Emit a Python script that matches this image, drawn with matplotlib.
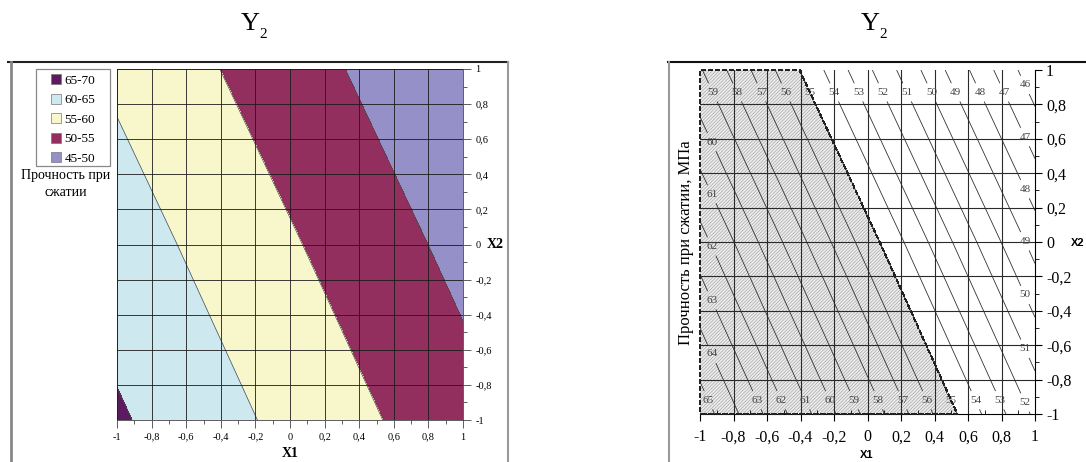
import numpy as np
import matplotlib
matplotlib.use('Agg')
import matplotlib.pyplot as plt
from matplotlib.patches import Rectangle
from matplotlib.lines import Line2D
from matplotlib.ticker import MultipleLocator, FuncFormatter, FixedLocator

# ---------------- data ----------------
x1_nodes = [-1.0, 0.0, 1.0]
x2_nodes = [-1.0, 0.0, 1.0]
# Y2 (compressive strength) at grid nodes; rows: X2 = -1, 0, 1 ; cols: X1 = -1, 0, 1
y2_grid = [[65.6, 58.7, 51.8],
           [62.4, 55.5, 48.6],
           [59.1, 52.2, 45.3]]

band_levels = [45, 50, 55, 60, 65, 70]
band_labels = ['45-50', '50-55', '55-60', '60-65', '65-70']
band_colors = ['#9590c7', '#932f5f', '#f8f6cb', '#cde9ef', '#5c1b5f']

line_levels = list(range(46, 66))
labels_top = [47, 48, 49, 50, 51, 52, 53, 54, 55, 56, 57, 58, 59]
labels_bottom = [53, 54, 55, 56, 57, 58, 59, 60, 61, 62, 63, 65]
labels_left = [60, 61, 62, 63, 64]
labels_right = [46, 47, 48, 49, 50, 51, 52]
feasible_levels = [55, 70]
tick_vals = [-1.0, -0.8, -0.6, -0.4, -0.2, 0.0, 0.2, 0.4, 0.6, 0.8, 1.0]

title_main = 'Y'
title_sub = '2'
ylabel_right = 'Прочность при сжатии, МПа'
legend_title = 'Прочность при\nсжатии'

# ---------------- helpers ----------------
W, H = 1086, 462
SERIF = 'Liberation Serif'
SANS = 'Liberation Sans'
plt.rcParams['hatch.color'] = '#9a9a9a'
plt.rcParams['hatch.linewidth'] = 0.4

xs = np.linspace(-1, 1, 201)
rows = np.array([np.interp(xs, x1_nodes, r) for r in y2_grid])
Z = np.array([np.interp(xs, x2_nodes, rows[:, j]) for j in range(len(xs))]).T


def fx(px):
    return px / W


def fy(py):
    return 1 - py / H


def comma(v, pos=None):
    s = '%g' % round(v, 1)
    return s.replace('.', ',')


def idx(v):
    return int(np.argmin(np.abs(xs - v)))


def along_row(level, x2v):
    r = Z[idx(x2v)]
    return (float(np.interp(level, r[::-1], xs[::-1])), x2v)


def along_col(level, x1v):
    c = Z[:, idx(x1v)]
    return (x1v, float(np.interp(level, c[::-1], xs[::-1])))


fig = plt.figure(figsize=(W / 100, H / 100), dpi=100)

# ---------------- left panel ----------------
axL = fig.add_axes([fx(117), fy(420), fx(463 - 117), (420 - 69) / H])
axL.contourf(xs, xs, Z, levels=band_levels, colors=band_colors)
axL.contour(xs, xs, Z, levels=band_levels[1:-1], colors='#4a4a4a', linewidths=0.5)
axL.set_xlim(-1, 1)
axL.set_ylim(-1, 1)
axL.yaxis.tick_right()
axL.xaxis.set_major_locator(FixedLocator(tick_vals))
axL.yaxis.set_major_locator(FixedLocator(tick_vals))
axL.xaxis.set_minor_locator(MultipleLocator(0.1))
axL.yaxis.set_minor_locator(MultipleLocator(0.1))
axL.xaxis.set_major_formatter(FuncFormatter(comma))
axL.yaxis.set_major_formatter(FuncFormatter(comma))
axL.grid(True, which='major', color='#1a1a1a', linewidth=0.6)
axL.set_axisbelow(False)
axL.tick_params(which='major', length=6, width=0.6, color='#444', labelsize=7.5, pad=3)
axL.tick_params(which='minor', length=3, width=0.6, color='#444')
for lab in axL.get_xticklabels() + axL.get_yticklabels():
    lab.set_fontfamily(SERIF)
for s in axL.spines.values():
    s.set_linewidth(0.6)
    s.set_color('#444')

fig.text(fx(290), fy(447), 'X1', family=SERIF, weight='bold', fontsize=10,
         ha='center', va='top')
fig.text(fx(495), fy(245), 'X2', family=SERIF, weight='bold', fontsize=10,
         ha='center', va='center')

# legend (square markers) with its own frame
handles = [Line2D([], [], linestyle='none', marker='s', markersize=6.5,
                  markerfacecolor=c, markeredgecolor='#777', markeredgewidth=0.5)
           for c in band_colors][::-1]
leg = fig.legend(handles, band_labels[::-1], loc='upper left',
                 bbox_to_anchor=(fx(36), fy(69)), bbox_transform=fig.transFigure,
                 frameon=False, prop={'family': SERIF, 'size': 9.5},
                 handlelength=2.2, handletextpad=-0.45, labelspacing=0.56,
                 borderpad=0.4, borderaxespad=0)
for t in leg.get_texts():
    t.set_fontfamily(SERIF)
fig.add_artist(Rectangle((fx(36), fy(166)), fx(110 - 36), (166 - 69) / H,
                         transform=fig.transFigure, facecolor='none',
                         edgecolor='#888', linewidth=0.9))
fig.text(fx(66), fy(184), legend_title, family=SERIF, fontsize=10,
         ha='center', va='center', linespacing=1.45)

# ---------------- right panel ----------------
axR = fig.add_axes([fx(700), fy(414), fx(1035 - 700), (414 - 70) / H])
axR.contourf(xs, xs, Z, levels=feasible_levels, colors=['#ececec'],
             hatches=['//////////'], zorder=1)
cs = axR.contour(xs, xs, Z, levels=line_levels, colors='#333333',
                 linewidths=0.6, zorder=2)
pts = ([along_row(l, 0.87) for l in labels_top] +
       [along_row(l, -0.92) for l in labels_bottom] +
       [along_col(l, -0.93) for l in labels_left] +
       [along_col(l, 0.94) for l in labels_right])
txts = axR.clabel(cs, manual=pts, inline=True, inline_spacing=3,
                  fontsize=8, fmt='%d', colors='#444')
for t in txts:
    t.set_rotation(0)
    t.set_fontfamily(SERIF)

edge = axR.contourf(xs, xs, Z, levels=feasible_levels, colors='none', zorder=4)
edge.set_facecolor('none')
edge.set_edgecolor('#222')
edge.set_linestyle((0, (3, 2)))
edge.set_linewidth(1.0)
edge.set_clip_on(False)

for v in tick_vals[1:-1]:
    axR.axvline(v, color='#2a2a2a', linewidth=0.8, zorder=3)
    axR.axhline(v, color='#2a2a2a', linewidth=0.8, zorder=3)

axR.set_xlim(-1, 1)
axR.set_ylim(-1, 1)
axR.yaxis.tick_right()
axR.xaxis.set_major_locator(FixedLocator(tick_vals))
axR.yaxis.set_major_locator(FixedLocator(tick_vals))
axR.xaxis.set_minor_locator(MultipleLocator(0.1))
axR.yaxis.set_minor_locator(MultipleLocator(0.1))
axR.xaxis.set_major_formatter(FuncFormatter(comma))
axR.yaxis.set_major_formatter(FuncFormatter(comma))
axR.tick_params(which='major', length=5, width=0.8, labelsize=11.5, pad=3)
axR.tick_params(axis='x', which='major', pad=6)
axR.tick_params(axis='x', which='minor', length=3, width=0.6, direction='in')
axR.tick_params(axis='y', which='minor', length=3, width=0.6)
for lab in axR.get_xticklabels() + axR.get_yticklabels():
    lab.set_fontfamily(SERIF)
axR.spines['top'].set_visible(False)
axR.spines['left'].set_visible(False)
axR.spines['right'].set_linewidth(0.8)
axR.spines['bottom'].set_linewidth(0.8)

fig.text(fx(867), fy(455), 'X1', family=SANS, weight='bold', fontsize=8,
         ha='center', va='center')
fig.text(fx(1078), fy(243), 'X2', family=SANS, weight='bold', fontsize=8,
         ha='center', va='center')
fig.text(fx(686), fy(243), ylabel_right, family=SERIF, fontsize=12,
         rotation=90, ha='center', va='center')

# ---------------- titles ----------------
for cx in (250, 870):
    fig.text(fx(cx), fy(30), title_main, family=SERIF, fontsize=19,
             ha='center', va='baseline')
    fig.text(fx(cx + 13.5), fy(38), title_sub, family=SERIF, fontsize=11,
             ha='center', va='baseline')

# ---------------- frame lines ----------------
frame = [((8, 508), (62, 62), '#222', 1.5),
         ((11, 11), (62, 462), '#888', 2.0),
         ((508, 508), (62, 462), '#999', 1.5),
         ((668, 1086), (62, 62), '#111', 1.5),
         ((669, 669), (62, 462), '#999', 1.5)]
for xx, yy, c, lw in frame:
    fig.add_artist(Line2D([fx(xx[0]), fx(xx[1])], [fy(yy[0]), fy(yy[1])],
                          transform=fig.transFigure, color=c, linewidth=lw))

fig.savefig('out.png', dpi=100)
